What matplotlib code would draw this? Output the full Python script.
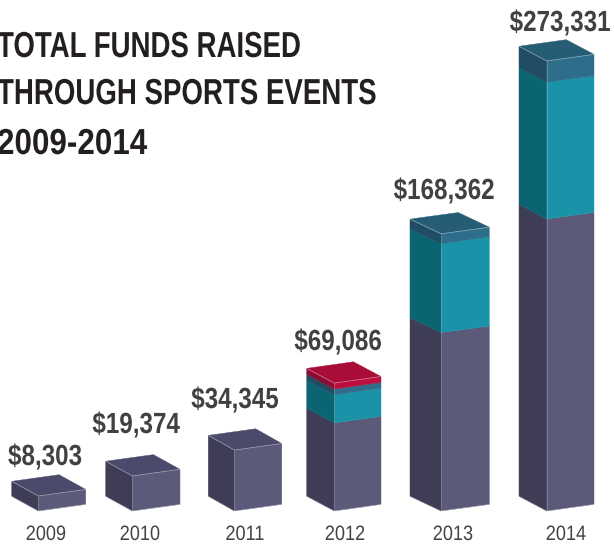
#!/bin/python3
import matplotlib
matplotlib.use('agg')
import matplotlib.pyplot as plt
from matplotlib.patheffects import AbstractPathEffect
from matplotlib.transforms import Affine2D

years = ['2009', '2010', '2011', '2012', '2013', '2014']
totals = ['$8,303', '$19,374', '$34,345', '$69,086', '$168,362', '$273,331']
title = ['TOTAL FUNDS RAISED', 'THROUGH SPORTS EVENTS', '2009-2014']
# segment values, in dollars
purple = [9100, 21300, 37000, 53500, 108400, 177400]
teal = [0, 0, 0, 17000, 54000, 83000]
blue = [0, 0, 0, 3600, 6000, 13000]
red = [0, 0, 0, 3600, 0, 0]

# layout, in pixels
W, H = 614, 547
BASE = 511
PX = 1.646 / 1000  # pixels per dollar
lefts = [11.7, 105.7, 208.3, 306.7, 410, 519]
fronts = [38.3, 132.3, 234.3, 334.3, 441, 546.7]
rights = [85.7, 180, 281.7, 381, 489.3, 594]
label_x = [45, 136, 235, 338, 444, 560]
label_y = [465, 433, 408, 350, 199, 31]
year_x = [46, 140, 245, 345, 453, 566]
title_y = [57, 104, 154]
title_sx = [0.765, 0.766, 0.87]
DEPTH_DY = 14.7
FACE_DY = 6.6

plt.rcParams['font.family'] = ['Liberation Sans', 'DejaVu Sans']

# (values, front, left, top colours) of each layer
styles = [
    (purple, '#5b5a78', '#3f3d56', '#4c4a6a'),
    (teal, '#1a93a9', '#0a6472', '#1a7f92'),
    (blue, '#2f6e8b', '#204d64', '#265d75'),
    (red, '#bd0f3e', '#8f0a30', '#a80c37'),
]


class Squeeze(AbstractPathEffect):
    # no condensed font is installed, so narrow the glyphs around the anchor
    def __init__(self, x0, sx):
        super().__init__()
        self.x0 = x0
        self.sx = sx

    def draw_path(self, renderer, gc, tpath, affine, rgbFace=None):
        squeeze = Affine2D().translate(-self.x0, 0).scale(self.sx, 1).translate(self.x0, 0)
        renderer.draw_path(gc, tpath, affine + squeeze, rgbFace)


def up(px):
    # pixel height to dollars on the y axis
    return px / PX


def from_top(px):
    # distance from the top of the picture to dollars on the y axis
    return up(BASE - px)


def draw_bar(ax, i):
    l, f, r = lefts[i], fronts[i], rights[i]
    bottom = 0
    top_colour = None
    for values, front_c, left_c, top_c in styles:
        v = values[i]
        if v == 0:
            continue
        y0, y1 = bottom, bottom + v
        ax.fill([f, r, r, f], [y0, y0 + up(FACE_DY), y1 + up(FACE_DY), y1], color=front_c, lw=0.3)
        ax.fill([l, f, f, l], [y0 + up(DEPTH_DY), y0, y1, y1 + up(DEPTH_DY)], color=left_c, lw=0.3)
        bottom = y1
        top_colour = top_c
    # top face
    back = l + r - f
    ax.fill([l, f, r, back],
            [bottom + up(DEPTH_DY), bottom, bottom + up(FACE_DY), bottom + up(DEPTH_DY + FACE_DY)],
            color=top_colour, lw=0.3)
    # pale edge lines
    ax.plot([l, f, r], [bottom + up(DEPTH_DY), bottom, bottom + up(FACE_DY)], color='#ffffff', lw=0.5, alpha=0.45)
    ax.plot([f, f], [0, bottom], color='#ffffff', lw=0.5, alpha=0.3)
    ax.plot([l, f, r], [up(DEPTH_DY), 0, up(FACE_DY)], color='#ffffff', lw=0.5, alpha=0.3)


def main():
    fig = plt.figure(figsize=(W / 100, H / 100), dpi=100)
    ax = fig.add_axes([0, 0, 1, 1])
    ax.set_xlim(0, W)
    ax.set_ylim(up(BASE - H), up(BASE))
    ax.axis('off')

    for i in range(len(years)):
        draw_bar(ax, i)
        ax.text(label_x[i], from_top(label_y[i]), totals[i], ha='center', va='baseline',
                fontsize=21, fontweight='bold', color='#414042',
                path_effects=[Squeeze(label_x[i], 0.83)])
        ax.text(year_x[i], from_top(540), years[i], ha='center', va='baseline',
                fontsize=15, color='#444444', path_effects=[Squeeze(year_x[i], 0.87)])

    for line, y, sx in zip(title, title_y, title_sx):
        ax.text(-3, from_top(y), line, ha='left', va='baseline', fontsize=26,
                fontweight='bold', color='#231f20', path_effects=[Squeeze(-3, sx)])

    fig.savefig('out.png', dpi=100)


if __name__ == "__main__":
    main()
